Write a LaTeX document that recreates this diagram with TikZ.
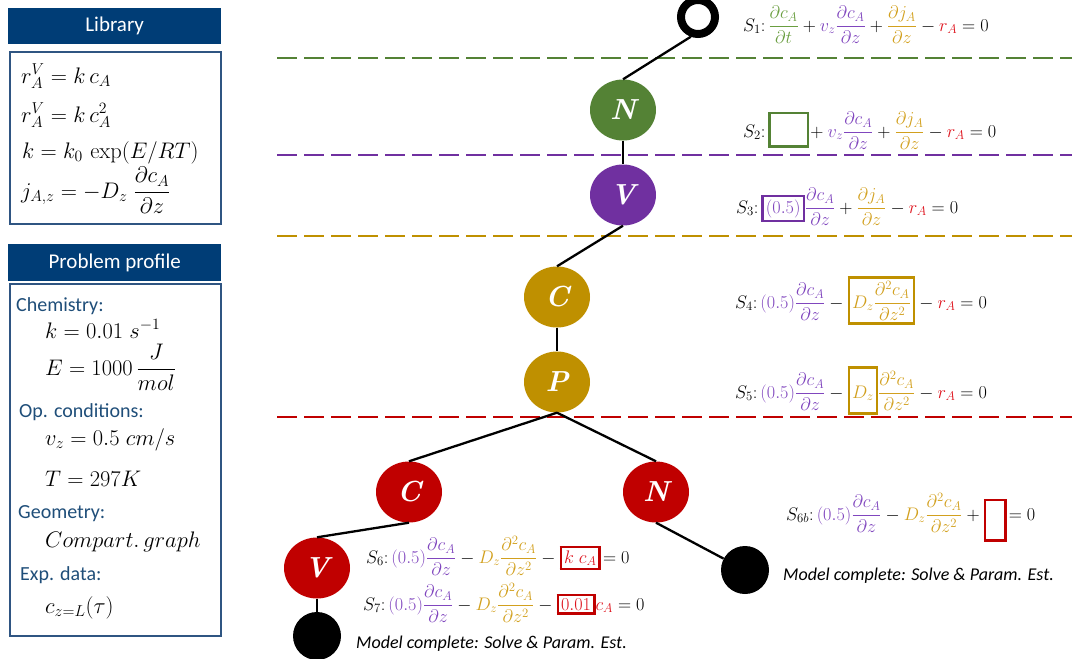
\RequirePackage{fix-cm}
\documentclass[tikz,border=0pt]{standalone}
\usepackage{amsmath}
\usepackage{fontspec}
\setsansfont{Carlito}
\usepackage{tikz}
\usetikzlibrary{shapes.geometric}

\definecolor{hdblue}{RGB}{0,61,118}
\definecolor{frameblue}{RGB}{47,85,130}
\definecolor{txtblue}{RGB}{31,78,121}
\definecolor{ngreen}{RGB}{84,130,53}
\definecolor{npurple}{RGB}{112,48,160}
\definecolor{ngold}{RGB}{191,144,0}
\definecolor{nred}{RGB}{192,0,0}
\definecolor{tgreen}{RGB}{106,158,64}
\definecolor{tpurple}{RGB}{128,70,190}
\definecolor{tgold}{RGB}{210,160,30}
\definecolor{tred}{RGB}{222,20,30}

% coloured terms of the balance
\newcommand{\cg}[1]{{\color{tgreen}#1}}
\newcommand{\cp}[1]{{\color{tpurple}#1}}
\newcommand{\co}[1]{{\color{tgold}#1}}
\newcommand{\cred}[1]{{\color{tred}#1}}
\newcommand{\pd}[2]{\dfrac{\partial #1}{\partial #2}}
\newcommand{\pdd}[2]{\dfrac{\partial^2 #1}{\partial #2^2}}
\newcommand{\boxeq}[2]{{\setlength{\fboxrule}{2.5pt}\setlength{\fboxsep}{2pt}\fcolorbox{#1}{white}{$\displaystyle #2$}}}
\newcommand{\boxempty}[4]{{\setlength{\fboxrule}{2.5pt}\setlength{\fboxsep}{0pt}\fcolorbox{#1}{white}{\rule[-#4]{0pt}{\dimexpr#3+#4\relax}\hspace*{#2}}}}

\tikzset{
	head/.style = {fill=hdblue, text=white, font=\sffamily\fontsize{21}{24}\selectfont, minimum width=213, minimum height=36, inner sep=0pt, anchor=north west},
	panel/.style = {draw=frameblue, line width=2, minimum width=211, inner sep=0pt, anchor=north west},
	libeq/.style = {anchor=base west, inner sep=0pt, font=\fontsize{22.5}{26}\selectfont},
	proflabel/.style = {anchor=base west, inner sep=0pt, text=txtblue, font=\sffamily\fontsize{20}{24}\selectfont},
	tree node/.style = {ellipse, minimum width=66, minimum height=61, inner sep=0pt, text=white, font=\fontsize{29}{29}\selectfont\bfseries\itshape},
	end node/.style = {circle, fill=black, minimum size=48, inner sep=0pt},
	start node/.style = {circle, draw=black, line width=8, minimum size=34, inner sep=0pt},
	edge/.style = {line width=2.3, black},
	sep line/.style = {line width=2.5, dash pattern=on 20pt off 7pt},
	eq/.style = {anchor=base west, inner sep=0pt, font=\fontsize{18.2}{21}\selectfont},
	note/.style = {anchor=base west, inner sep=0pt, font=\sffamily\itshape\fontsize{18}{20}\selectfont}
}

\begin{document}
\begin{tikzpicture}[x=1pt, y=-1pt]
	\useasboundingbox (0,0) rectangle (1072,659);

	% left panels
	\node[head] (libhead) at (8,8) {Library};
	\node[panel, minimum height=172] (libbox) at (9,51) {};
	\node[libeq] (lib1) at (21,83) {$r_A^V = k\,c_A$};
	\node[libeq] (lib2) at (21,122) {$r_A^V = k\,c_A^2$};
	\node[libeq] (lib3) at (22,158) {$k = k_0\,\exp(E/RT)$};
	\node[libeq] (lib4) at (21,198) {$j_{A,z} = -D_z\;\dfrac{\partial c_A}{\partial z}$};

	\node[head, minimum height=37] (profhead) at (8,244) {Problem profile};
	\node[panel, minimum height=352] (profbox) at (9,283) {};
	\node[proflabel] (chem) at (16,311) {Chemistry:};
	\node[libeq] (kval) at (45,338) {$k = 0.01\;s^{-1}$};
	\node[libeq] (Eval) at (45,375) {$E = 1000\,\dfrac{J}{mol}$};
	\node[proflabel] (opcond) at (19,417) {Op. conditions:};
	\node[libeq] (vval) at (45,445) {$v_z = 0.5\;cm/s$};
	\node[libeq] (Tval) at (45,486) {$T = 297K$};
	\node[proflabel] (geom) at (18,518) {Geometry:};
	\node[libeq] (graph) at (45,547) {$Compart.\,graph$};
	\node[proflabel] (expdata) at (20,580) {Exp. data:};
	\node[libeq] (cdata) at (45,613) {$c_{z=L}(\tau)$};

	% level separators
	\draw[sep line, draw=ngreen] (277,58) -- (1072,58);
	\draw[sep line, draw=npurple] (277,155) -- (1072,155);
	\draw[sep line, draw=ngold] (277,236) -- (1072,236);
	\draw[sep line, draw=nred] (277,417) -- (1072,417);

	% tree
	\node[start node] (root) at (698,17) {};
	\node[tree node, fill=ngreen] (N1) at (623,110) {N};
	\node[tree node, fill=npurple] (V1) at (623,195) {V};
	\node[tree node, fill=ngold] (C1) at (557,297) {C};
	\node[tree node, fill=ngold] (P1) at (557,382) {P};
	\node[tree node, fill=nred] (C2) at (409,492) {C};
	\node[tree node, fill=nred] (N2) at (656,492) {N};
	\node[tree node, fill=nred] (V2) at (317,568) {V};
	\node[end node] (E1) at (317,636) {};
	\node[end node] (E2) at (745,570) {};

	\draw[edge] (root.-110) -- (N1.north);
	\draw[edge] (N1) -- (V1);
	\draw[edge] (V1.south) -- (C1.north);
	\draw[edge] (C1) -- (P1);
	\draw[edge] (P1.south) -- (C2.north);
	\draw[edge] (P1.south) -- (N2.north);
	\draw[edge] (C2.south) -- (V2.north);
	\draw[edge] (V2) -- (E1);
	\draw[edge] (N2.south) -- (E2);

	% model equations
	\node[eq] (S1) at (743,31) {$S_1{:}\,\cg{\pd{c_A}{t}} + \cp{v_z\pd{c_A}{z}} + \co{\pd{j_A}{z}} - \cred{r_A} = 0$};
	\node[eq] (S2) at (743,137) {$S_2{:}\,\boxempty{ngreen}{36pt}{23pt}{8pt}\!+ \cp{v_z\pd{c_A}{z}} + \co{\pd{j_A}{z}} - \cred{r_A} = 0$};
	\node[eq] (S3) at (736,213) {$S_3{:}\,\boxeq{npurple}{\cp{(0.5)}}\cp{\pd{c_A}{z}} + \co{\pd{j_A}{z}} - \cred{r_A} = 0$};
	\node[eq] (S4) at (735,308) {$S_4{:}\,\cp{(0.5)\pd{c_A}{z}} - \boxeq{ngold}{\co{D_z\pdd{c_A}{z}}} - \cred{r_A} = 0$};
	\node[eq] (S5) at (735,398) {$S_5{:}\,\cp{(0.5)\pd{c_A}{z}} - \boxeq{ngold}{\co{D_z}\vphantom{\pdd{c_A}{z}}}\co{\pdd{c_A}{z}} - \cred{r_A} = 0$};
	\node[eq] (S6b) at (786,520) {$S_{6b}{:}\,\cp{(0.5)\pd{c_A}{z}} - \co{D_z\pdd{c_A}{z}} + \boxempty{nred}{18pt}{19pt}{19pt}\!= 0$};
	\node[eq] (S6) at (366,563) {$S_6{:}\,\cp{(0.5)\pd{c_A}{z}} - \co{D_z\pdd{c_A}{z}} - \boxeq{nred}{\cred{k\;c_A}}\!= 0$};
	\node[eq] (S7) at (363,610) {$S_7{:}\,\cp{(0.5)\pd{c_A}{z}} - \co{D_z\pdd{c_A}{z}} - \boxeq{nred}{\cred{0.01}}\cred{c_A} = 0$};

	\node[note] (done1) at (356,648) {Model complete: Solve \& Param. Est.};
	\node[note] (done2) at (783,580) {Model complete: Solve \& Param. Est.};
\end{tikzpicture}
\end{document}
